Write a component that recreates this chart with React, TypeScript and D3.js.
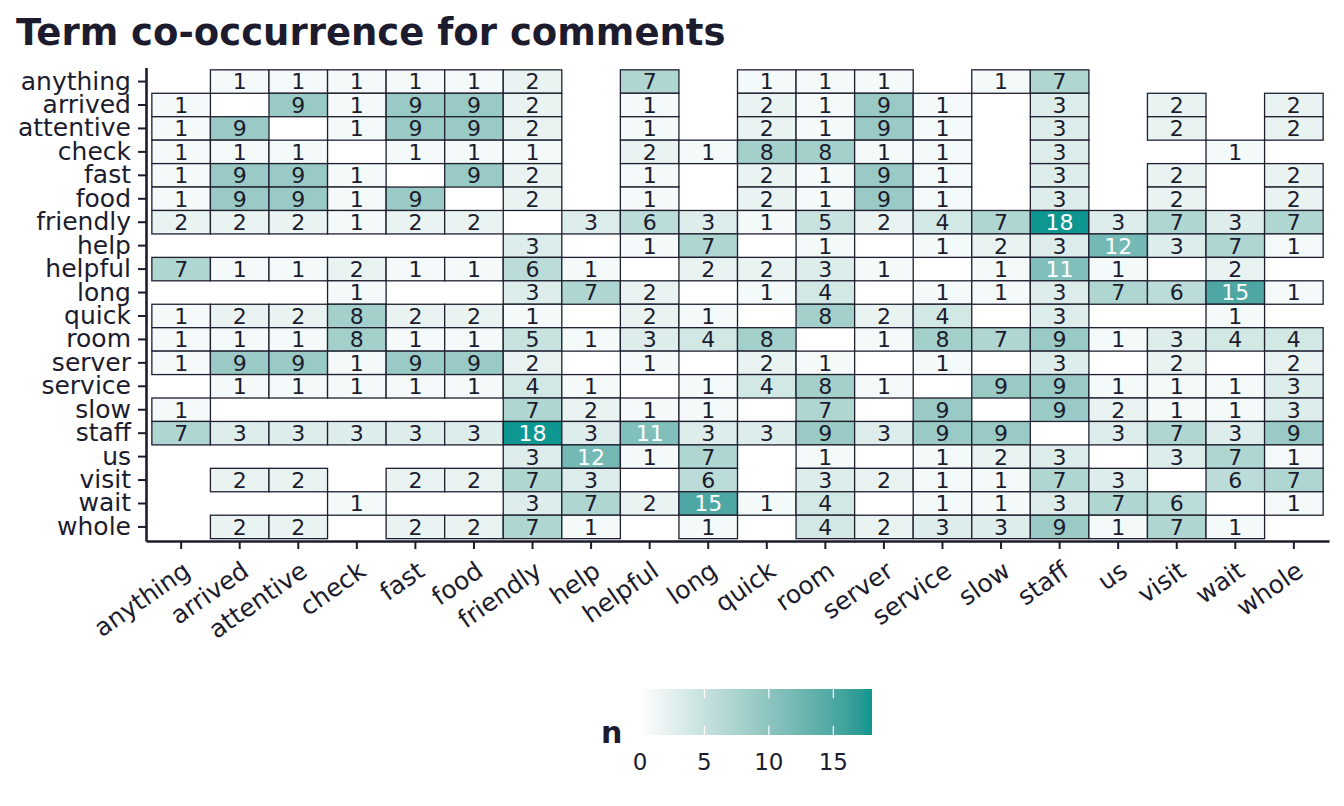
import { useEffect, useRef } from "react";
import * as d3 from "d3";

// Terms on both axes
const terms = [
  "anything", "arrived", "attentive", "check", "fast", "food", "friendly",
  "help", "helpful", "long", "quick", "room", "server", "service", "slow",
  "staff", "us", "visit", "wait", "whole",
];

// Co-occurrence counts, one row per term (null = no tile)
const _ = null;
const counts: (number | null)[][] = [
  [_, 1, 1, 1, 1, 1, 2, _, 7, _, 1, 1, 1, _, 1, 7, _, _, _, _], // anything
  [1, _, 9, 1, 9, 9, 2, _, 1, _, 2, 1, 9, 1, _, 3, _, 2, _, 2], // arrived
  [1, 9, _, 1, 9, 9, 2, _, 1, _, 2, 1, 9, 1, _, 3, _, 2, _, 2], // attentive
  [1, 1, 1, _, 1, 1, 1, _, 2, 1, 8, 8, 1, 1, _, 3, _, _, 1, _], // check
  [1, 9, 9, 1, _, 9, 2, _, 1, _, 2, 1, 9, 1, _, 3, _, 2, _, 2], // fast
  [1, 9, 9, 1, 9, _, 2, _, 1, _, 2, 1, 9, 1, _, 3, _, 2, _, 2], // food
  [2, 2, 2, 1, 2, 2, _, 3, 6, 3, 1, 5, 2, 4, 7, 18, 3, 7, 3, 7], // friendly
  [_, _, _, _, _, _, 3, _, 1, 7, _, 1, _, 1, 2, 3, 12, 3, 7, 1], // help
  [7, 1, 1, 2, 1, 1, 6, 1, _, 2, 2, 3, 1, _, 1, 11, 1, _, 2, _], // helpful
  [_, _, _, 1, _, _, 3, 7, 2, _, 1, 4, _, 1, 1, 3, 7, 6, 15, 1], // long
  [1, 2, 2, 8, 2, 2, 1, _, 2, 1, _, 8, 2, 4, _, 3, _, _, 1, _], // quick
  [1, 1, 1, 8, 1, 1, 5, 1, 3, 4, 8, _, 1, 8, 7, 9, 1, 3, 4, 4], // room
  [1, 9, 9, 1, 9, 9, 2, _, 1, _, 2, 1, _, 1, _, 3, _, 2, _, 2], // server
  [_, 1, 1, 1, 1, 1, 4, 1, _, 1, 4, 8, 1, _, 9, 9, 1, 1, 1, 3], // service
  [1, _, _, _, _, _, 7, 2, 1, 1, _, 7, _, 9, _, 9, 2, 1, 1, 3], // slow
  [7, 3, 3, 3, 3, 3, 18, 3, 11, 3, 3, 9, 3, 9, 9, _, 3, 7, 3, 9], // staff
  [_, _, _, _, _, _, 3, 12, 1, 7, _, 1, _, 1, 2, 3, _, 3, 7, 1], // us
  [_, 2, 2, _, 2, 2, 7, 3, _, 6, _, 3, 2, 1, 1, 7, 3, _, 6, 7], // visit
  [_, _, _, 1, _, _, 3, 7, 2, 15, 1, 4, _, 1, 1, 3, 7, 6, _, 1], // wait
  [_, 2, 2, _, 2, 2, 7, 1, _, 1, _, 4, 2, 3, 3, 9, 1, 7, 1, _], // whole
];

const legendTicks = [0, 5, 10, 15];

interface Cell {
  row: string;
  col: string;
  n: number;
}

const ink = "#1c1c2e";
const font = "'DejaVu Sans', sans-serif";

export default function App() {
  const svgRef = useRef<SVGSVGElement>(null);

  useEffect(() => {
    if (!svgRef.current) return;
    const svg = d3.select(svgRef.current);
    svg.selectAll("*").remove();

    const width = 1344;
    const height = 806;
    svg.attr("width", width).attr("height", height);

    const cells: Cell[] = [];
    counts.forEach((r, i) =>
      r.forEach((v, j) => {
        if (v != null) cells.push({ row: terms[i], col: terms[j], n: v });
      })
    );

    const maxN = d3.max(cells, (d) => d.n) as number;

    const x = d3
      .scaleBand<string>()
      .domain(terms)
      .range([146, 1329])
      .paddingInner(0)
      .paddingOuter(0.1);
    const y = d3
      .scaleBand<string>()
      .domain(terms)
      .range([67.5, 541])
      .paddingInner(0)
      .paddingOuter(0.1);

    const color = d3
      .scaleLinear<string>()
      .domain([0, maxN])
      .range(["#ffffff", "#0e9690"])
      .interpolate(d3.interpolateLab);

    // Title
    svg
      .append("text")
      .attr("x", 16)
      .attr("y", 45)
      .attr("fill", ink)
      .style("font-family", font)
      .style("font-size", "37px")
      .style("font-weight", "bold")
      .text("Term co-occurrence for comments");

    // Tiles
    svg
      .append("g")
      .selectAll("rect")
      .data(cells)
      .join("rect")
      .attr("x", (d) => x(d.col)!)
      .attr("y", (d) => y(d.row)!)
      .attr("width", x.bandwidth())
      .attr("height", y.bandwidth())
      .attr("fill", (d) => color(d.n))
      .attr("stroke", "#1f1f30")
      .attr("stroke-width", 1.3);

    // Tile labels
    svg
      .append("g")
      .selectAll("text")
      .data(cells)
      .join("text")
      .attr("x", (d) => x(d.col)! + x.bandwidth() / 2)
      .attr("y", (d) => y(d.row)! + y.bandwidth() / 2)
      .attr("dy", "0.36em")
      .attr("text-anchor", "middle")
      .attr("fill", (d) => (d.n >= 10 ? "#ffffff" : ink))
      .style("font-family", font)
      .style("font-size", "22px")
      .text((d) => d.n);

    // X axis
    const xAxisGroup = svg
      .append("g")
      .attr("transform", "translate(0,541)")
      .call(d3.axisBottom(x).tickSize(8).tickSizeOuter(0));
    xAxisGroup.select(".domain").attr("stroke", ink).attr("stroke-width", 2.6);
    xAxisGroup.selectAll(".tick line").attr("stroke", ink).attr("stroke-width", 2);
    xAxisGroup
      .selectAll(".tick text")
      .attr("y", null)
      .attr("dy", "0.76em")
      .attr("text-anchor", "end")
      .attr("transform", "translate(0,18) rotate(-35)")
      .attr("fill", ink)
      .style("font-family", font)
      .style("font-size", "25px");

    // Y axis
    const yAxisGroup = svg
      .append("g")
      .attr("transform", "translate(146,0)")
      .call(d3.axisLeft(y).tickSize(8).tickSizeOuter(0).tickPadding(7));
    yAxisGroup.select(".domain").attr("stroke", ink).attr("stroke-width", 2.6);
    yAxisGroup.selectAll(".tick line").attr("stroke", ink).attr("stroke-width", 2);
    yAxisGroup
      .selectAll(".tick text")
      .attr("fill", ink)
      .style("font-family", font)
      .style("font-size", "25px");

    // Legend colour bar
    const lx = d3.scaleLinear().domain([0, maxN]).range([640, 872]);
    const barTop = 689;
    const barH = 46;
    const grad = svg
      .append("defs")
      .append("linearGradient")
      .attr("id", "nGrad")
      .attr("x1", "0%")
      .attr("x2", "100%");
    d3.range(0, 1.0001, 0.05).forEach((t) => {
      grad
        .append("stop")
        .attr("offset", `${t * 100}%`)
        .attr("stop-color", color(t * maxN));
    });
    const legend = svg.append("g");
    legend
      .append("rect")
      .attr("x", lx(0))
      .attr("y", barTop)
      .attr("width", lx(maxN) - lx(0))
      .attr("height", barH)
      .attr("fill", "url(#nGrad)");
    const innerTicks = legendTicks.filter((t) => t > 0);
    legend
      .selectAll("line.top")
      .data(innerTicks)
      .join("line")
      .attr("x1", (d) => lx(d))
      .attr("x2", (d) => lx(d))
      .attr("y1", barTop)
      .attr("y2", barTop + barH / 5)
      .attr("stroke", "#ffffff")
      .attr("stroke-width", 1.2);
    legend
      .selectAll("line.bottom")
      .data(innerTicks)
      .join("line")
      .attr("x1", (d) => lx(d))
      .attr("x2", (d) => lx(d))
      .attr("y1", barTop + barH - barH / 5)
      .attr("y2", barTop + barH)
      .attr("stroke", "#ffffff")
      .attr("stroke-width", 1.2);
    legend
      .selectAll("text.lab")
      .data(legendTicks)
      .join("text")
      .attr("x", (d) => lx(d))
      .attr("y", 770)
      .attr("text-anchor", "middle")
      .attr("fill", ink)
      .style("font-family", font)
      .style("font-size", "23px")
      .text((d) => d);
    legend
      .append("text")
      .attr("x", 601)
      .attr("y", 743)
      .attr("fill", ink)
      .style("font-family", font)
      .style("font-size", "30px")
      .style("font-weight", "bold")
      .text("n");
  }, []);

  return (
    <svg
      ref={svgRef}
      viewBox="0 0 1344 806"
      style={{ position: "absolute", left: 0, top: 0, background: "#ffffff" }}
    />
  );
}
